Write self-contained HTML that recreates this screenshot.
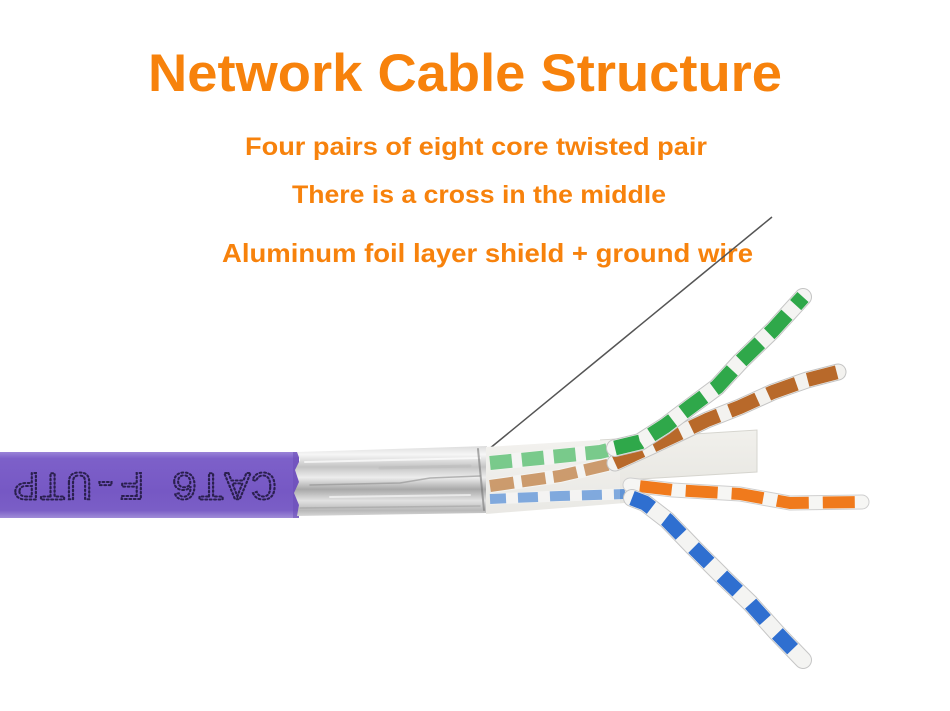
<!DOCTYPE html>
<html><head><meta charset="utf-8">
<style>
html,body{margin:0;padding:0;background:#fff;}
svg{display:block;}
</style></head>
<body>
<svg width="950" height="711" viewBox="0 0 950 711" xmlns="http://www.w3.org/2000/svg">
<defs>
<linearGradient id="jk" x1="0" y1="0" x2="0" y2="1">
<stop offset="0" stop-color="#9a84d8"/>
<stop offset="0.1" stop-color="#7d60c9"/>
<stop offset="0.6" stop-color="#7658c4"/>
<stop offset="0.88" stop-color="#7a5ec6"/>
<stop offset="1" stop-color="#a08cd8"/>
</linearGradient>
<linearGradient id="fo" x1="0" y1="0" x2="0" y2="1">
<stop offset="0" stop-color="#dcdcdc"/>
<stop offset="0.12" stop-color="#f6f6f6"/>
<stop offset="0.3" stop-color="#c4c4c4"/>
<stop offset="0.45" stop-color="#ededed"/>
<stop offset="0.62" stop-color="#a8a8a8"/>
<stop offset="0.78" stop-color="#e2e2e2"/>
<stop offset="0.92" stop-color="#b8b8b8"/>
<stop offset="1" stop-color="#d6d6d6"/>
</linearGradient>
<linearGradient id="tp" x1="0" y1="0" x2="0" y2="1">
<stop offset="0" stop-color="#f1f0ec"/>
<stop offset="1" stop-color="#e4e3de"/>
</linearGradient>
</defs>

<!-- Titles -->
<g font-family="'Liberation Sans', 'DejaVu Sans', sans-serif" font-weight="bold" fill="#f7820c">
<text x="148" y="91" font-size="53" textLength="634" lengthAdjust="spacingAndGlyphs">Network Cable Structure</text>
<text x="245" y="155" font-size="25" textLength="462" lengthAdjust="spacingAndGlyphs">Four pairs of eight core twisted pair</text>
<text x="292" y="203" font-size="25" textLength="374" lengthAdjust="spacingAndGlyphs">There is a cross in the middle</text>
<text x="222" y="262" font-size="26" textLength="531" lengthAdjust="spacingAndGlyphs">Aluminum foil layer shield + ground wire</text>
</g>

<!-- Ground wire -->
<path d="M489 449 L600 358 L700 276 L772 217" fill="none" stroke="#555" stroke-width="1.5"/>

<!-- Purple jacket -->
<rect x="0" y="452" width="299" height="66" fill="url(#jk)"/>
<rect x="293" y="452" width="6" height="66" fill="#6a4cb6" opacity="0.5"/>
<text transform="translate(277,473) rotate(180)" font-family="'Liberation Mono', monospace" font-size="40" textLength="264" lengthAdjust="spacingAndGlyphs" fill="none" stroke="#2a1f4e" stroke-width="2" stroke-dasharray="1.6 2.4" stroke-linecap="round">CAT6 F-UTP</text>

<!-- Foil -->
<path d="M297 452 L487 446 L486 513 L297 516 L299 505 L294 493 L299 482 L295 470 L300 460 Z" fill="url(#fo)"/>
<g stroke-linecap="round" fill="none">
<path d="M305 462 L480 458" stroke="#ffffff" stroke-width="2" opacity="0.7"/>
<path d="M310 485 L400 483 L430 478 L480 476" stroke="#8e8e8e" stroke-width="1.5" opacity="0.6"/>
<path d="M330 497 L470 495" stroke="#ffffff" stroke-width="2" opacity="0.6"/>
<path d="M300 508 L480 506" stroke="#9a9a9a" stroke-width="1.5" opacity="0.5"/>
<path d="M380 468 L470 466" stroke="#bdbdbd" stroke-width="3" opacity="0.6"/>
<path d="M478 449 L484 510" stroke="#777" stroke-width="2" opacity="0.6"/>
</g>

<!-- Clear sleeve + separator tape -->
<path d="M486 447 L600 440 L757 430 L757 472 L640 479 L625 503 L486 514 Z" fill="url(#tp)"/>
<path d="M600 440 L757 430 L757 472 L640 479" fill="none" stroke="#d6d5cf" stroke-width="1"/>

<!-- Wires inside sleeve -->
<g fill="none" stroke-linecap="butt" opacity="0.85">
<path d="M490 463 L540 458 L600 452 L640 442" stroke="#f4f4f2" stroke-width="15"/>
<path d="M490 463 L540 458 L600 452 L640 442" stroke="#3fb55a" stroke-width="14" stroke-dasharray="22 10"/>
<path d="M490 486 L560 476 L620 462 L650 447" stroke="#f4f4f2" stroke-width="14"/>
<path d="M490 486 L560 476 L620 462 L650 447" stroke="#b9722f" stroke-width="12" stroke-dasharray="24 8"/>
<path d="M490 499 L560 496 L625 494" stroke="#f4f4f2" stroke-width="11"/>
<path d="M490 499 L560 496 L625 494" stroke="#4a86d4" stroke-width="10" stroke-dasharray="20 12" stroke-dashoffset="4"/>
</g>
<path d="M486 447 L620 439 L620 505 L486 514 Z" fill="#ffffff" opacity="0.2"/>

<!-- Exposed pairs -->
<g fill="none" stroke-linejoin="round">
<!-- Orange -->
<path d="M630 485 L673 490 L740 494 L790 503 L862 502" stroke="#cfcfcf" stroke-width="15" stroke-linecap="round"/>
<path d="M630 485 L673 490 L740 494 L790 503 L862 502" stroke="#f6f6f4" stroke-width="13" stroke-linecap="round"/>
<path d="M630 485 L673 490 L740 494 L790 503 L862 502" stroke="#f07a1c" stroke-width="12" stroke-dasharray="32 14" stroke-dashoffset="-10"/>
<!-- Blue -->
<path d="M632 498 L645 503 L667 520 L693 547 L723 577 L750 603 L777 633 L803 660" stroke="#c6c6c6" stroke-width="18" stroke-linecap="round"/>
<path d="M632 498 L645 503 L667 520 L693 547 L723 577 L750 603 L777 633 L803 660" stroke="#f4f4f2" stroke-width="16" stroke-linecap="round"/>
<path d="M632 498 L645 503 L667 520 L693 547 L723 577 L750 603 L777 633 L803 660" stroke="#2f6fd0" stroke-width="15" stroke-dasharray="22 18"/>
<!-- Brown -->
<path d="M615 463 L650 447 L680 433 L707 420 L740 407 L773 392 L807 380 L838 372" stroke="#c4c4c4" stroke-width="17" stroke-linecap="round"/>
<path d="M615 463 L650 447 L680 433 L707 420 L740 407 L773 392 L807 380 L838 372" stroke="#f3f2ef" stroke-width="15" stroke-linecap="round"/>
<path d="M615 463 L650 447 L680 433 L707 420 L740 407 L773 392 L807 380 L838 372" stroke="#b8692a" stroke-width="14" stroke-dasharray="30 12"/>
<!-- Green -->
<path d="M615 448 L640 442 L665 426 L690 407 L717 387 L740 362 L773 330 L803 297" stroke="#c4c4c4" stroke-width="18" stroke-linecap="round"/>
<path d="M615 448 L640 442 L665 426 L690 407 L717 387 L740 362 L773 330 L803 297" stroke="#f4f4f2" stroke-width="16" stroke-linecap="round"/>
<path d="M615 448 L640 442 L665 426 L690 407 L717 387 L740 362 L773 330 L803 297" stroke="#2fa84a" stroke-width="15" stroke-dasharray="26 13"/>
</g>
</svg>
</body></html>
